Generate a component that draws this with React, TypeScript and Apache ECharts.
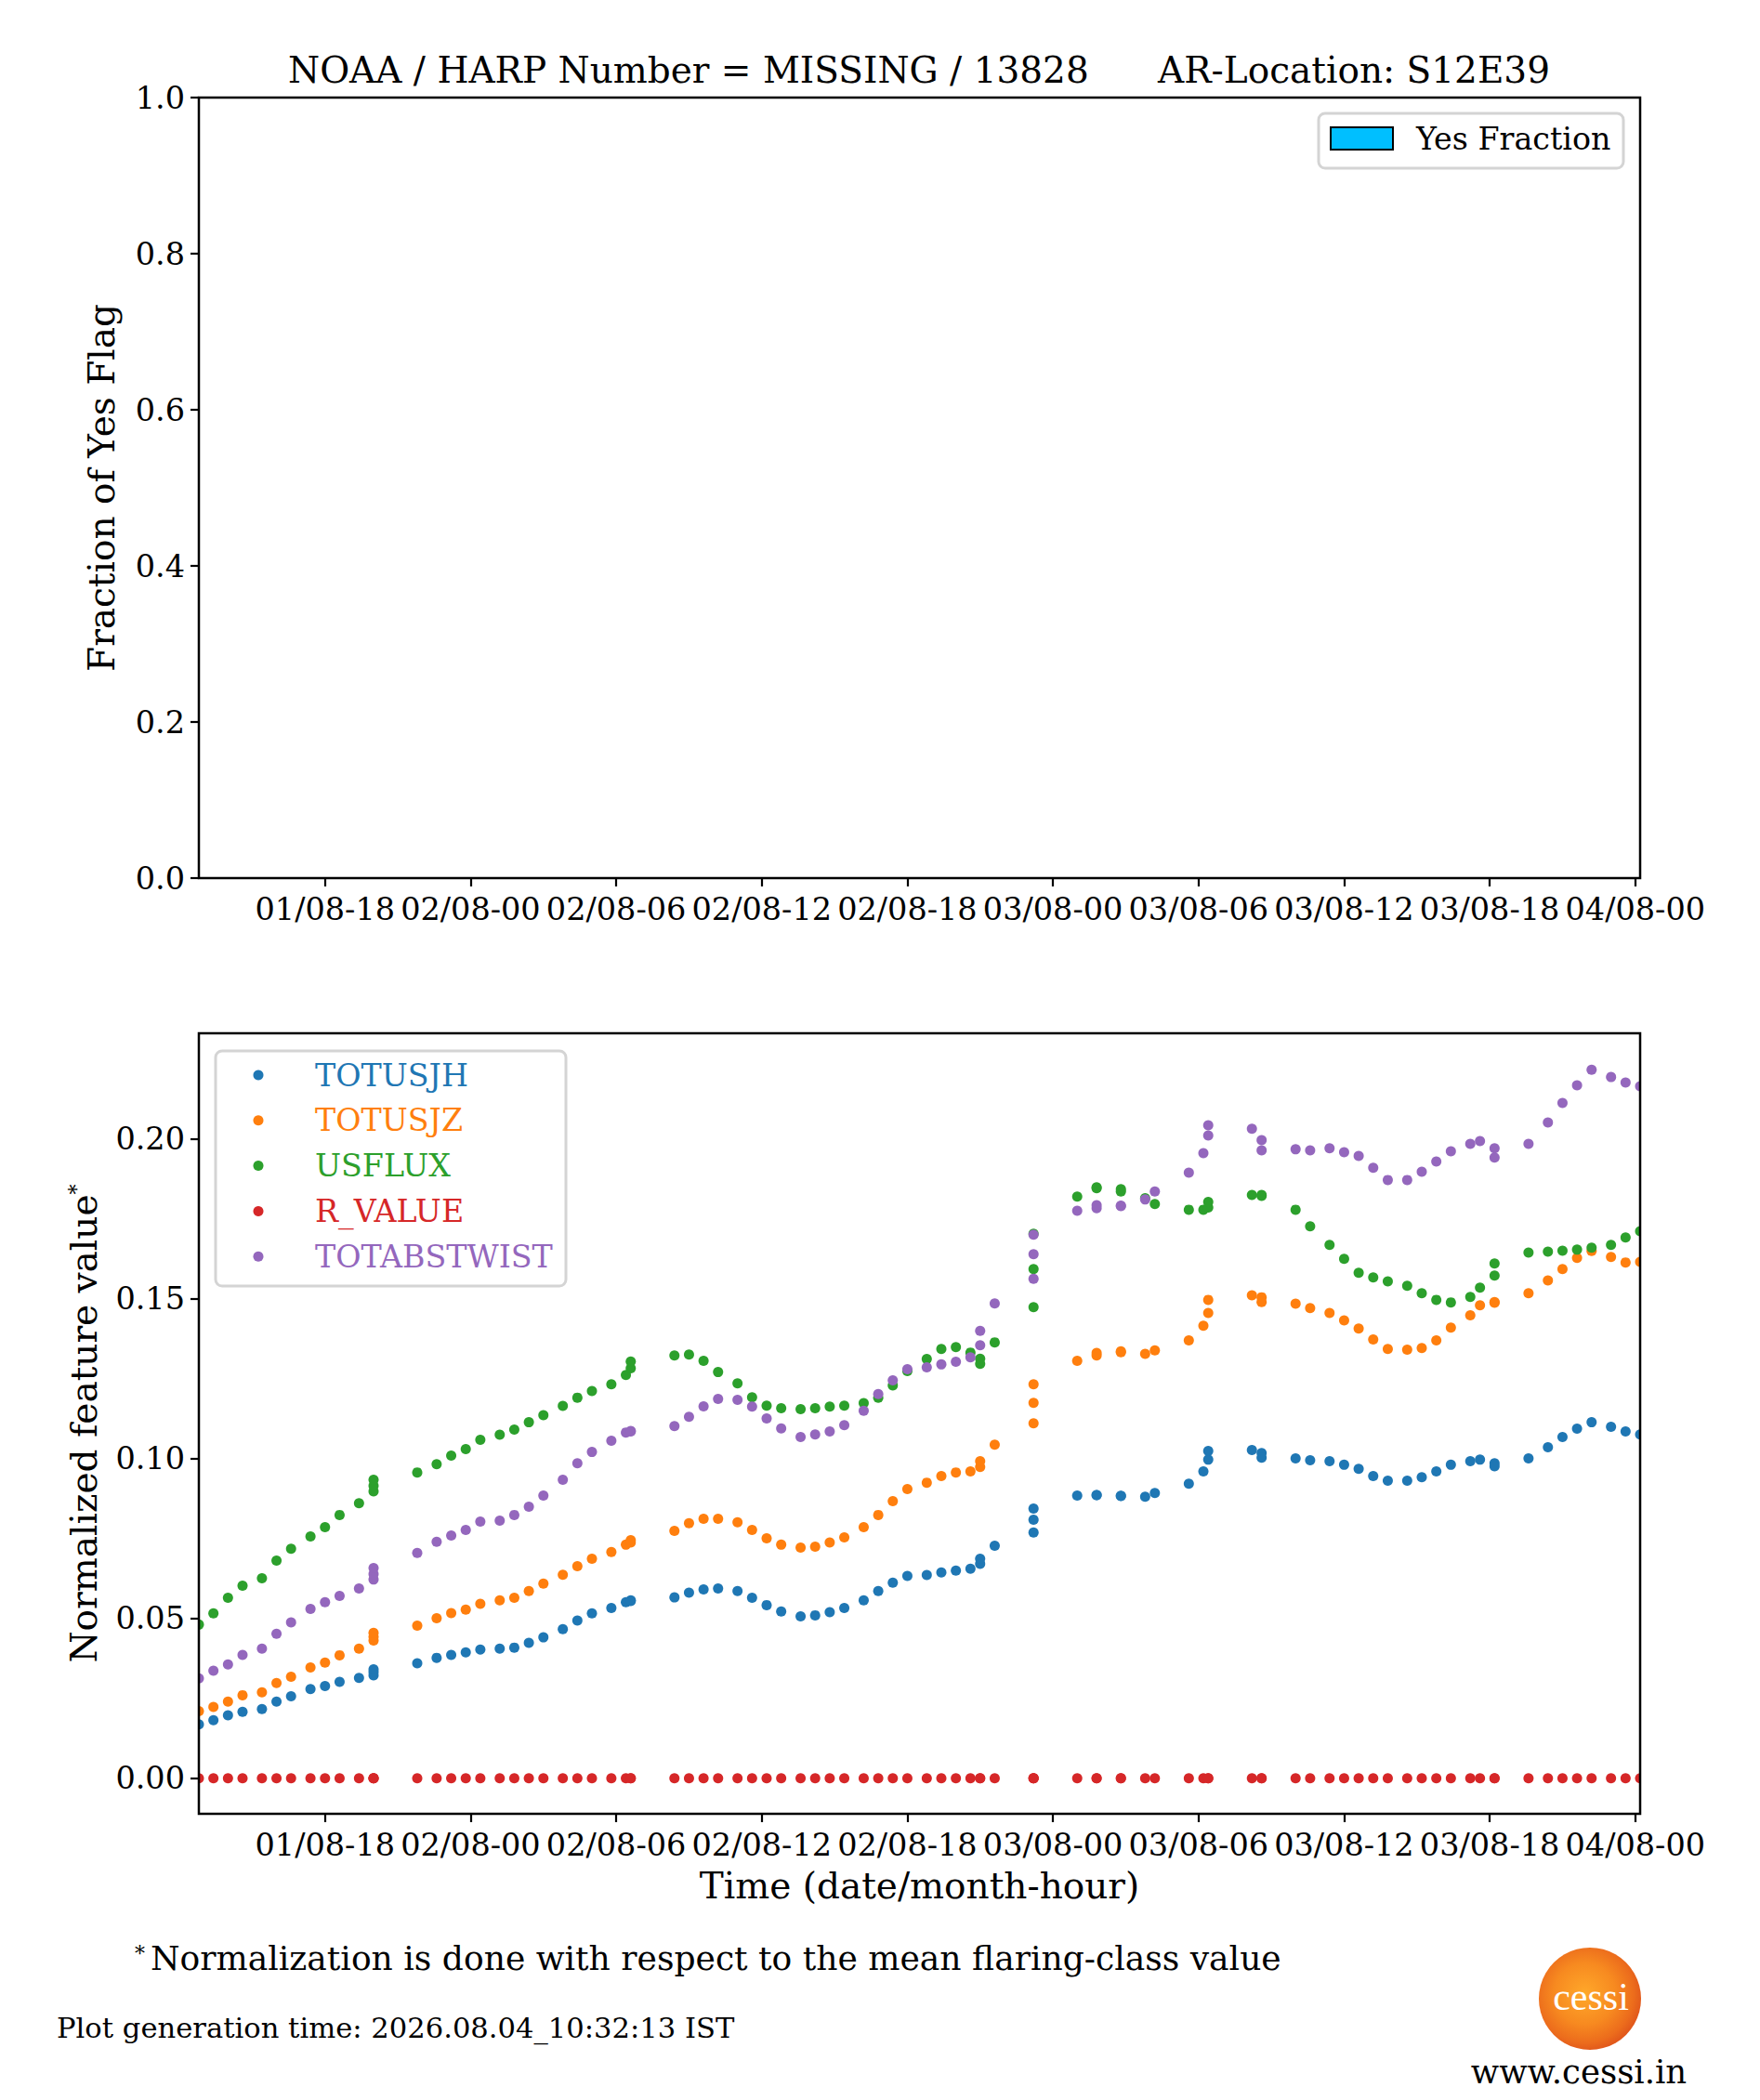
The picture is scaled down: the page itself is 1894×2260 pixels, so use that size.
import { useEffect, useRef } from 'react'
import * as echarts from 'echarts'

// observation times (local), one per record; repeated times are duplicate records
const obsTimes = [
  '2026-08-01T12:48', '2026-08-01T13:24', '2026-08-01T14:00', '2026-08-01T14:36', '2026-08-01T15:24',
  '2026-08-01T16:00', '2026-08-01T16:36', '2026-08-01T17:24', '2026-08-01T18:00', '2026-08-01T18:36',
  '2026-08-01T19:24', '2026-08-01T20:00', '2026-08-01T20:00', '2026-08-01T20:00', '2026-08-01T21:48',
  '2026-08-01T22:36', '2026-08-01T23:12', '2026-08-01T23:48', '2026-08-02T00:24', '2026-08-02T01:12',
  '2026-08-02T01:48', '2026-08-02T02:24', '2026-08-02T03:00', '2026-08-02T03:48', '2026-08-02T04:24',
  '2026-08-02T05:00', '2026-08-02T05:48', '2026-08-02T06:24', '2026-08-02T06:36', '2026-08-02T06:36',
  '2026-08-02T08:24',
  '2026-08-02T09:00', '2026-08-02T09:36', '2026-08-02T10:12', '2026-08-02T11:00', '2026-08-02T11:36',
  '2026-08-02T12:12', '2026-08-02T12:48', '2026-08-02T13:36', '2026-08-02T14:12', '2026-08-02T14:48',
  '2026-08-02T15:24', '2026-08-02T16:12', '2026-08-02T16:48', '2026-08-02T17:24', '2026-08-02T18:00',
  '2026-08-02T18:48', '2026-08-02T19:24', '2026-08-02T20:00', '2026-08-02T20:36', '2026-08-02T21:00',
  '2026-08-02T21:00', '2026-08-02T21:36', '2026-08-02T23:12', '2026-08-02T23:12', '2026-08-02T23:12',
  '2026-08-03T01:00', '2026-08-03T01:48', '2026-08-03T01:48', '2026-08-03T02:48', '2026-08-03T02:48',
  '2026-08-03T03:48', '2026-08-03T04:12',
  '2026-08-03T05:36', '2026-08-03T06:12', '2026-08-03T06:24', '2026-08-03T06:24', '2026-08-03T08:12',
  '2026-08-03T08:36', '2026-08-03T08:36', '2026-08-03T10:00', '2026-08-03T10:36', '2026-08-03T11:24',
  '2026-08-03T12:00', '2026-08-03T12:36', '2026-08-03T13:12', '2026-08-03T13:48', '2026-08-03T14:36',
  '2026-08-03T15:12', '2026-08-03T15:48', '2026-08-03T16:24', '2026-08-03T17:12', '2026-08-03T17:36',
  '2026-08-03T18:12', '2026-08-03T18:12', '2026-08-03T19:36', '2026-08-03T20:24', '2026-08-03T21:00',
  '2026-08-03T21:36', '2026-08-03T22:12', '2026-08-03T23:00', '2026-08-03T23:36', '2026-08-04T00:12'
]

const totusjh = [
  0.0169, 0.0182, 0.0197, 0.0208, 0.0217, 0.0240, 0.0257, 0.0279, 0.0289, 0.0302,
  0.0314, 0.0322, 0.0332, 0.0341, 0.0360, 0.0377, 0.0386, 0.0394, 0.0403, 0.0406,
  0.0409, 0.0424, 0.0441, 0.0467, 0.0494, 0.0516, 0.0533, 0.0551, 0.0555, 0.0557,
  0.0566,
  0.0581, 0.0591, 0.0594, 0.0586, 0.0565, 0.0542, 0.0522, 0.0507, 0.0510, 0.0520,
  0.0533, 0.0557, 0.0586, 0.0612, 0.0633, 0.0636, 0.0644, 0.0650, 0.0656, 0.0671,
  0.0687, 0.0728, 0.0769, 0.0809, 0.0844, 0.0885, 0.0886, 0.0886, 0.0883, 0.0884,
  0.0881, 0.0893,
  0.0922, 0.0960, 0.0997, 0.1024, 0.1027, 0.1018, 0.1003, 0.1001, 0.0995, 0.0992,
  0.0981, 0.0968, 0.0946, 0.0931, 0.0931, 0.0942, 0.0960, 0.0981, 0.0992, 0.0997,
  0.0986, 0.0976, 0.1001, 0.1036, 0.1068, 0.1094, 0.1114, 0.1100, 0.1085, 0.1076
]

const totusjz = [
  0.0210, 0.0223, 0.0240, 0.0260, 0.0269, 0.0298, 0.0318, 0.0347, 0.0362, 0.0385,
  0.0406, 0.0431, 0.0443, 0.0455, 0.0478, 0.0501, 0.0517, 0.0528, 0.0546, 0.0557,
  0.0565, 0.0586, 0.0609, 0.0637, 0.0664, 0.0687, 0.0708, 0.0731, 0.0738, 0.0745,
  0.0774,
  0.0798, 0.0812, 0.0812, 0.0801, 0.0777, 0.0751, 0.0731, 0.0722, 0.0725, 0.0738,
  0.0754, 0.0786, 0.0824, 0.0867, 0.0905, 0.0925, 0.0946, 0.0957, 0.0960, 0.0974,
  0.0992, 0.1044, 0.1111, 0.1175, 0.1233, 0.1306, 0.1323, 0.1331, 0.1333, 0.1336,
  0.1328, 0.1339,
  0.1370, 0.1416, 0.1456, 0.1497, 0.1511, 0.1505, 0.1490, 0.1485, 0.1471, 0.1456,
  0.1433, 0.1407, 0.1373, 0.1343, 0.1341, 0.1346, 0.1370, 0.1410, 0.1449, 0.1480,
  0.1488, 0.1490, 0.1518, 0.1558, 0.1593, 0.1628, 0.1650, 0.1631, 0.1614, 0.1616
]

const usflux = [
  0.0481, 0.0516, 0.0565, 0.0603, 0.0626, 0.0681, 0.0718, 0.0757, 0.0786, 0.0824,
  0.0861, 0.0898, 0.0915, 0.0934, 0.0957, 0.0983, 0.1010, 0.1030, 0.1059, 0.1075,
  0.1091, 0.1114, 0.1136, 0.1165, 0.1191, 0.1212, 0.1233, 0.1262, 0.1283, 0.1304,
  0.1323,
  0.1326, 0.1306, 0.1271, 0.1236, 0.1192, 0.1166, 0.1158, 0.1155, 0.1158, 0.1163,
  0.1166, 0.1174, 0.1191, 0.1229, 0.1274, 0.1312, 0.1343, 0.1349, 0.1332, 0.1313,
  0.1297, 0.1364, 0.1474, 0.1593, 0.1704, 0.1820, 0.1849, 0.1846, 0.1843, 0.1836,
  0.1815, 0.1797,
  0.1779, 0.1779, 0.1786, 0.1803, 0.1825, 0.1825, 0.1822, 0.1779, 0.1727, 0.1669,
  0.1625, 0.1582, 0.1567, 0.1555, 0.1541, 0.1518, 0.1497, 0.1489, 0.1506, 0.1535,
  0.1573, 0.1611, 0.1645, 0.1648, 0.1651, 0.1654, 0.1660, 0.1669, 0.1692, 0.1712
]

const rValue = [
  0, 0, 0, 0, 0, 0, 0, 0, 0, 0, 0, 0, 0, 0, 0, 0, 0, 0, 0, 0, 0, 0, 0, 0, 0, 0, 0, 0, 0, 0, 0,
  0, 0, 0, 0, 0, 0, 0, 0, 0, 0, 0, 0, 0, 0, 0, 0, 0, 0, 0, 0, 0, 0, 0, 0, 0, 0, 0, 0, 0, 0, 0, 0,
  0, 0, 0, 0, 0, 0, 0, 0, 0, 0, 0, 0, 0, 0, 0, 0, 0, 0, 0, 0, 0, 0, 0, 0, 0, 0, 0, 0, 0, 0
]

const totabstwist = [
  0.0313, 0.0337, 0.0356, 0.0386, 0.0406, 0.0452, 0.0488, 0.0530, 0.0551, 0.0571,
  0.0594, 0.0622, 0.0639, 0.0658, 0.0705, 0.0740, 0.0760, 0.0777, 0.0803, 0.0806,
  0.0824, 0.0850, 0.0885, 0.0934, 0.0986, 0.1021, 0.1056, 0.1082, 0.1085, 0.1087,
  0.1102,
  0.1131, 0.1164, 0.1187, 0.1184, 0.1163, 0.1126, 0.1095, 0.1068, 0.1076, 0.1085,
  0.1105, 0.1150, 0.1202, 0.1245, 0.1280, 0.1286, 0.1295, 0.1303, 0.1317, 0.1355,
  0.1400, 0.1486, 0.1563, 0.1640, 0.1701, 0.1776, 0.1784, 0.1793, 0.1792, 0.1790,
  0.1811, 0.1836,
  0.1895, 0.1956, 0.2011, 0.2043, 0.2032, 0.1997, 0.1965, 0.1968, 0.1965, 0.1971,
  0.1959, 0.1947, 0.1910, 0.1872, 0.1872, 0.1898, 0.1930, 0.1962, 0.1985, 0.1994,
  0.1971, 0.1942, 0.1985, 0.2052, 0.2113, 0.2168, 0.2217, 0.2194, 0.2177, 0.2165
]

// no flare-flag records in this window
const yesFraction: number[] = []

const featureNames = ['TOTUSJH', 'TOTUSJZ', 'USFLUX', 'R_VALUE', 'TOTABSTWIST']
const featureColors = ['#1f77b4', '#ff7f0e', '#2ca02c', '#d62728', '#9467bd']

const xTickTimes = [
  '2026-08-01T18:00', '2026-08-02T00:00', '2026-08-02T06:00', '2026-08-02T12:00', '2026-08-02T18:00',
  '2026-08-03T00:00', '2026-08-03T06:00', '2026-08-03T12:00', '2026-08-03T18:00', '2026-08-04T00:00'
]
const featureTicks = [0, 0.05, 0.1, 0.15, 0.2]

const SERIF = "'DejaVu Serif', serif"
const TOP_GRID = { left: 214, top: 105, width: 1551, height: 840 }
const BOT_GRID = { left: 214, top: 1112, width: 1551, height: 840 }

const pad2 = (n: number) => String(n).padStart(2, '0')
const fmtTick = (v: number) => {
  const d = new Date(v)
  return `${pad2(d.getDate())}/${pad2(d.getMonth() + 1)}-${pad2(d.getHours())}`
}

function FlareChart() {
  const chartRef = useRef<HTMLDivElement>(null)

  useEffect(() => {
    if (!chartRef.current) return
    const chart = echarts.init(chartRef.current, null, { renderer: 'svg' })

    const times = obsTimes.map((t) => new Date(t).getTime())
    const tickVals = xTickTimes.map((t) => new Date(t).getTime())
    const xMin = times[0]
    const xMax = times[times.length - 1]
    const featureData = [totusjh, totusjz, usflux, rValue, totabstwist]

    const tickStyle = { color: '#000', width: 2.2 }
    const xAxisBase = (gridIndex: number) => ({
      type: 'value' as const,
      gridIndex,
      min: xMin,
      max: xMax,
      axisLine: { show: false, onZero: false },
      axisTick: { show: true, length: 9, lineStyle: tickStyle, customValues: tickVals },
      axisLabel: {
        customValues: tickVals,
        formatter: (v: number) => fmtTick(v),
        fontFamily: SERIF,
        fontSize: 33.5,
        color: '#000',
        margin: 16
      },
      splitLine: { show: false }
    })

    const frame = (g: typeof TOP_GRID) => ({
      type: 'rect',
      z: 50,
      silent: true,
      shape: { x: g.left, y: g.top, width: g.width, height: g.height },
      style: { fill: 'none', stroke: '#000', lineWidth: 2.5 }
    })

    // white strips just outside the lower frame, so edge markers look clipped
    const mask = (x: number) => ({
      type: 'rect',
      z: 5,
      silent: true,
      shape: { x, y: BOT_GRID.top, width: 8, height: BOT_GRID.height },
      style: { fill: '#fff' }
    })

    const label = (text: string, x: number, y: number, size: number, extra = {}) => ({
      type: 'text',
      z: 61,
      x,
      y,
      style: {
        text,
        fontFamily: SERIF,
        fontSize: size,
        fill: '#000',
        textAlign: 'left',
        textVerticalAlign: 'middle',
        ...extra
      }
    })

    const legendRows = featureNames.flatMap((name, i) => [
      {
        type: 'circle',
        z: 61,
        shape: { cx: 278, cy: 1157 + i * 48.8, r: 5.5 },
        style: { fill: featureColors[i] }
      },
      label(name, 339, 1157 + i * 48.8, 33.3, { fill: featureColors[i] })
    ])

    chart.setOption({
      animation: false,
      backgroundColor: '#fff',
      grid: [
        { ...TOP_GRID, containLabel: false, outerBoundsMode: 'none' },
        { ...BOT_GRID, containLabel: false, outerBoundsMode: 'none' }
      ],
      xAxis: [
        xAxisBase(0),
        {
          ...xAxisBase(1),
          name: 'Time (date/month-hour)',
          nameLocation: 'middle',
          nameGap: 58,
          nameTextStyle: { fontFamily: SERIF, fontSize: 39, color: '#000' }
        }
      ],
      yAxis: [
        {
          type: 'value',
          gridIndex: 0,
          min: 0,
          max: 1,
          interval: 0.2,
          axisLine: { show: false },
          splitLine: { show: false },
          axisTick: { show: true, length: 9, lineStyle: tickStyle },
          axisLabel: {
            formatter: (v: number) => v.toFixed(1),
            fontFamily: SERIF,
            fontSize: 33.5,
            color: '#000',
            margin: 15
          },
          name: 'Fraction of Yes Flag',
          nameLocation: 'middle',
          nameGap: 85,
          nameTextStyle: { fontFamily: SERIF, fontSize: 39, color: '#000' }
        },
        {
          type: 'value',
          gridIndex: 1,
          z: 10,
          min: -0.0111,
          max: 0.2331,
          axisLine: { show: false },
          splitLine: { show: false },
          axisTick: { show: true, length: 9, lineStyle: tickStyle, customValues: featureTicks },
          axisLabel: {
            customValues: featureTicks,
            formatter: (v: number) => v.toFixed(2),
            fontFamily: SERIF,
            fontSize: 33.5,
            color: '#000',
            margin: 15
          },
          name: 'Normalized feature value{sup|*}',
          nameLocation: 'middle',
          nameGap: 104,
          nameTextStyle: {
            fontFamily: SERIF,
            fontSize: 39,
            color: '#000',
            rich: { sup: { fontFamily: SERIF, fontSize: 22, color: '#000', verticalAlign: 'top' } }
          }
        }
      ],
      series: [
        {
          name: 'Yes Fraction',
          type: 'bar',
          xAxisIndex: 0,
          yAxisIndex: 0,
          data: yesFraction,
          itemStyle: { color: '#00bfff', borderColor: '#000', borderWidth: 2 }
        },
        ...featureNames.map((name, i) => ({
          name,
          type: 'scatter',
          xAxisIndex: 1,
          yAxisIndex: 1,
          symbol: 'circle',
          symbolSize: 11,
          itemStyle: { color: featureColors[i], opacity: 1 },
          data: featureData[i].map((v, k) => [times[k], v])
        }))
      ],
      graphic: [
        label('NOAA / HARP Number = MISSING / 13828      AR-Location: S12E39', 989, 75, 39, {
          textAlign: 'center'
        }),
        mask(BOT_GRID.left - 8),
        mask(BOT_GRID.left + BOT_GRID.width),
        frame(TOP_GRID),
        frame(BOT_GRID),
        // top legend
        {
          type: 'rect',
          z: 60,
          shape: { x: 1419, y: 122, width: 328, height: 59, r: 7 },
          style: { fill: 'rgba(255,255,255,0.8)', stroke: '#d4d4d4', lineWidth: 3 }
        },
        {
          type: 'rect',
          z: 61,
          shape: { x: 1432, y: 137, width: 67, height: 24 },
          style: { fill: '#00bfff', stroke: '#000', lineWidth: 2 }
        },
        label('Yes Fraction', 1524, 149, 33.3),
        // bottom legend
        {
          type: 'rect',
          z: 60,
          shape: { x: 232, y: 1131, width: 377, height: 253, r: 7 },
          style: { fill: 'rgba(255,255,255,0.8)', stroke: '#d4d4d4', lineWidth: 3 }
        },
        ...legendRows,
        // footnote
        label('*', 145, 2102, 22),
        label('Normalization is done with respect to the mean flaring-class value', 162, 2108, 36.1),
        label('Plot generation time: 2026.08.04_10:32:13 IST', 61, 2182, 30.6),
        // cessi logo
        {
          type: 'circle',
          z: 60,
          shape: { cx: 1711, cy: 2151, r: 55 },
          style: {
            fill: new echarts.graphic.RadialGradient(0.45, 0.45, 0.6, [
              { offset: 0, color: '#ffa82a' },
              { offset: 0.5, color: '#f78a20' },
              { offset: 0.8, color: '#ec6c1c' },
              { offset: 1, color: '#dc4f1a' }
            ])
          }
        },
        label('cessi', 1712, 2149, 42, {
          fontFamily: "'Liberation Serif', serif",
          fill: '#fff',
          textAlign: 'center'
        }),
        label('www.cessi.in', 1699, 2229, 35.5, { textAlign: 'center' })
      ]
    })

    return () => {
      chart.dispose()
    }
  }, [])

  return (
    <div
      ref={chartRef}
      style={{ position: 'absolute', left: 0, top: 0, width: '1894px', height: '2260px' }}
    />
  )
}

export default function App() {
  return <FlareChart />
}
